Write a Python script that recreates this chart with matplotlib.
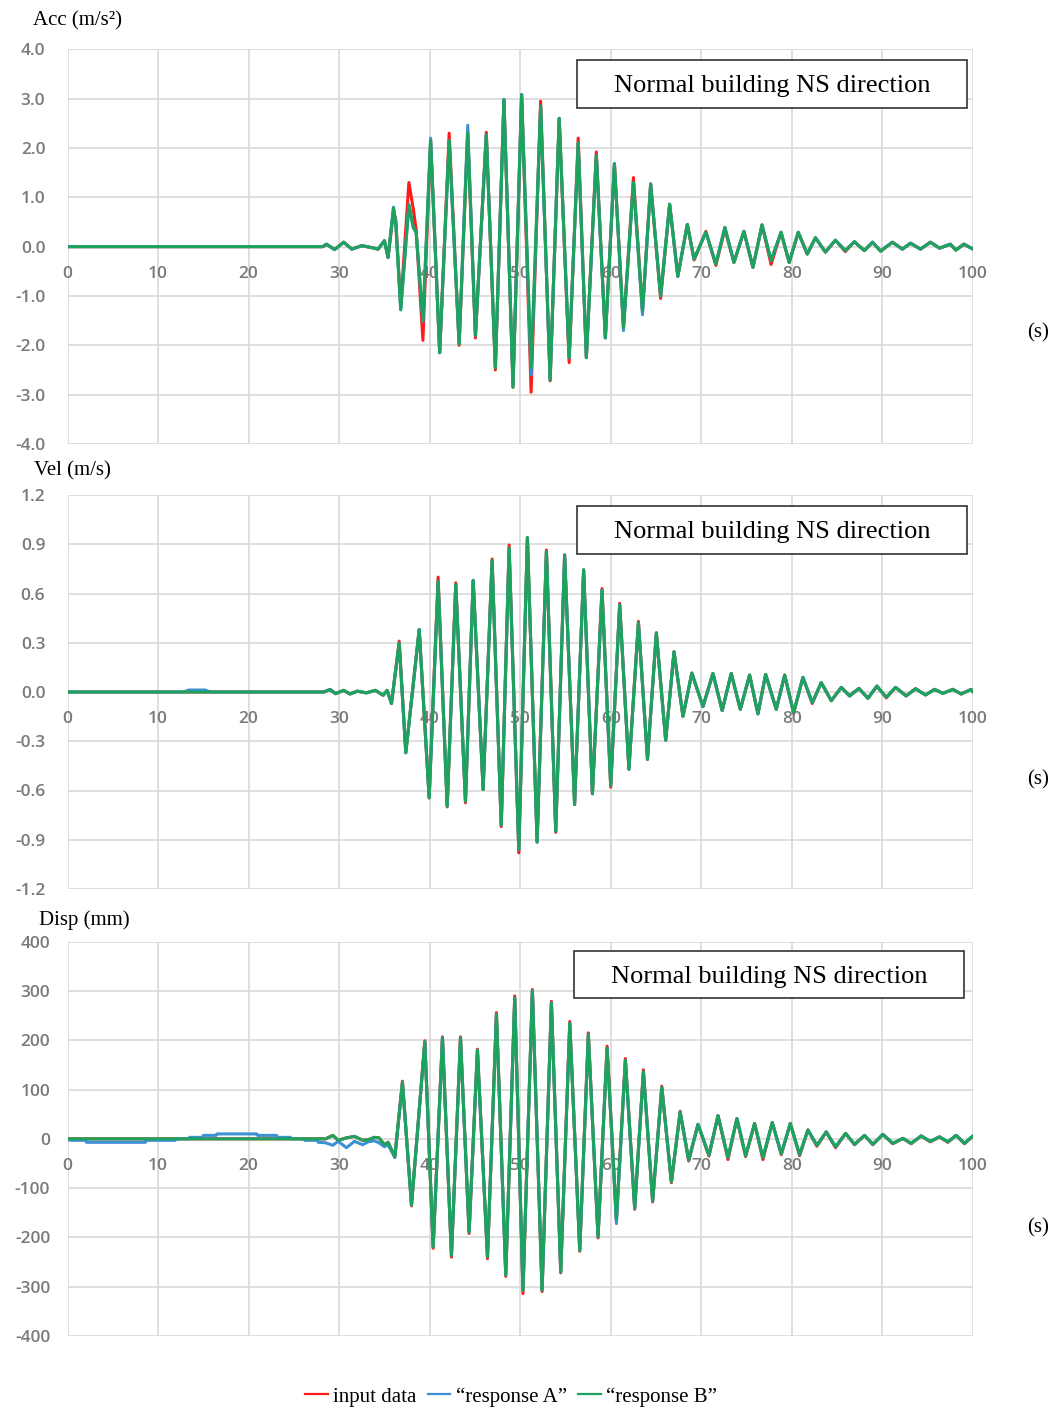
import matplotlib
matplotlib.use("Agg")
import matplotlib.pyplot as plt
from matplotlib.lines import Line2D
from matplotlib.patches import Rectangle
from matplotlib.ticker import MultipleLocator, FormatStrFormatter

plt.rcParams['font.family'] = ['Open Sans', 'DejaVu Sans']
plt.rcParams['axes.unicode_minus'] = False

# ---------------- data ----------------
series_names = ['input data', '\u201cresponse A\u201d', '\u201cresponse B\u201d']
x_ticks = [0, 10, 20, 30, 40, 50, 60, 70, 80, 90, 100]

# Acceleration (m/s^2)
t_acc = [0.0, 28.2, 28.6, 29.5, 30.5, 31.4, 32.5, 33.6, 34.3, 35.0,
         35.4, 36.0, 36.25, 36.8, 37.7, 38.2, 38.5, 39.25, 40.1, 41.1,
         42.15, 43.25, 44.2, 45.05, 46.25, 47.25, 48.2, 49.2, 50.15, 51.2,
         52.25, 53.3, 54.3, 55.4, 56.4, 57.3, 58.4, 59.4, 60.4, 61.4,
         62.5, 63.5, 64.4, 65.5, 66.5, 67.4, 68.45, 69.2, 70.5,
         71.6, 72.6, 73.6, 74.7, 75.7, 76.7, 77.7, 78.8, 79.7, 80.7,
         81.7, 82.6, 83.7, 84.8, 85.9, 86.9, 88.0, 88.9, 89.8, 91.1,
         92.2, 93.1, 94.2, 95.3, 96.3, 97.5, 98.1, 99.0, 100.0]
acc_resp_b = [0.0, 0.0, 0.05, -0.06, 0.09, -0.05, 0.02, -0.02, -0.05, 0.12,
              -0.22, 0.78, 0.48, -1.28, 0.85, 0.38, 0.30, -1.50, 2.15, -2.15,
              2.15, -1.97, 2.30, -1.80, 2.27, -2.45, 2.98, -2.85, 3.08, -2.45,
              2.85, -2.70, 2.60, -2.25, 2.10, -2.25, 1.85, -1.85, 1.68, -1.63,
              1.30, -1.30, 1.27, -1.00, 0.86, -0.60, 0.45, -0.25, 0.29,
              -0.35, 0.39, -0.32, 0.31, -0.42, 0.44, -0.28, 0.29, -0.32, 0.29,
              -0.15, 0.18, -0.11, 0.13, -0.08, 0.10, -0.08, 0.09, -0.09, 0.09,
              -0.05, 0.07, -0.05, 0.09, -0.03, 0.05, -0.07, 0.05, -0.05]
acc_resp_a = [0.0, 0.0, 0.05, -0.06, 0.09, -0.05, 0.02, -0.02, -0.05, 0.12,
              -0.22, 0.80, 0.48, -1.28, 0.85, 0.38, 0.30, -1.52, 2.20, -2.15,
              2.15, -1.97, 2.46, -1.80, 2.27, -2.45, 2.98, -2.80, 3.08, -2.60,
              2.85, -2.70, 2.60, -2.25, 2.10, -2.25, 1.85, -1.85, 1.68, -1.70,
              1.30, -1.38, 1.27, -1.00, 0.86, -0.60, 0.45, -0.25, 0.29,
              -0.35, 0.39, -0.32, 0.31, -0.42, 0.44, -0.28, 0.29, -0.32, 0.29,
              -0.15, 0.18, -0.11, 0.13, -0.08, 0.10, -0.08, 0.09, -0.09, 0.09,
              -0.05, 0.07, -0.05, 0.09, -0.03, 0.05, -0.07, 0.05, -0.05]
acc_input = [0.0, 0.0, 0.05, -0.06, 0.09, -0.05, 0.02, -0.02, -0.05, 0.12,
             -0.22, 0.70, 0.55, -1.20, 1.30, 0.75, 0.35, -1.90, 2.15, -2.15,
             2.30, -2.00, 2.30, -1.85, 2.32, -2.50, 2.98, -2.85, 3.08, -2.95,
             2.95, -2.72, 2.60, -2.35, 2.20, -2.25, 1.92, -1.85, 1.68, -1.63,
             1.40, -1.30, 1.27, -1.05, 0.86, -0.60, 0.45, -0.27, 0.31,
             -0.38, 0.35, -0.32, 0.31, -0.42, 0.44, -0.36, 0.29, -0.32, 0.29,
             -0.15, 0.18, -0.11, 0.13, -0.10, 0.10, -0.08, 0.09, -0.09, 0.09,
             -0.05, 0.07, -0.05, 0.09, -0.03, 0.05, -0.07, 0.05, -0.05]

# Velocity (m/s)
t_vel = [0.0, 12.8, 13.4, 15.2, 15.8, 28.3, 29.0, 29.6, 30.5, 31.2,
         32.0, 33.0, 34.0, 34.86, 35.3, 35.78, 36.63, 37.36, 38.84, 39.94,
         40.93, 41.93, 42.88, 43.95, 44.8, 45.9, 46.89, 47.9, 48.77, 49.84,
         50.79, 51.86, 52.89, 53.92, 54.9, 56.0, 57.0, 57.97, 59.03, 59.99,
         60.98, 62.0, 63.05, 64.05, 65.03, 66.06, 66.98, 67.97, 68.95, 70.18,
         71.28, 72.3, 73.3, 74.3, 75.33, 76.25, 77.1, 78.27, 79.2, 80.19,
         81.22, 82.25, 83.24, 84.35, 85.45, 86.37, 87.4, 88.4, 89.39, 90.42,
         91.45, 92.62, 93.65, 94.76, 95.75, 96.67, 97.77, 98.7, 99.8, 100.0]
vel_resp_b = [0.0, 0.0, 0.0, 0.0, 0.0, 0.0, 0.015, -0.01, 0.01, -0.012,
              0.005, -0.005, 0.01, -0.02, 0.01, -0.07, 0.298, -0.37, 0.38, -0.645,
              0.673, -0.695, 0.653, -0.665, 0.68, -0.594, 0.80, -0.81, 0.876, -0.96,
              0.94, -0.914, 0.855, -0.847, 0.835, -0.685, 0.744, -0.62, 0.62, -0.57,
              0.53, -0.47, 0.42, -0.41, 0.36, -0.294, 0.245, -0.148, 0.115, -0.089,
              0.113, -0.113, 0.113, -0.105, 0.103, -0.133, 0.107, -0.105, 0.103, -0.125,
              0.089, -0.065, 0.057, -0.053, 0.028, -0.024, 0.022, -0.038, 0.036, -0.032,
              0.028, -0.024, 0.02, -0.018, 0.016, -0.008, 0.016, -0.012, 0.016, 0.0]
vel_resp_a = [0.0, 0.0, 0.012, 0.012, 0.0, 0.0, 0.015, -0.01, 0.01, -0.012,
              0.005, -0.005, 0.01, -0.02, 0.01, -0.07, 0.298, -0.37, 0.38, -0.645,
              0.673, -0.695, 0.653, -0.665, 0.68, -0.594, 0.80, -0.81, 0.876, -0.96,
              0.94, -0.914, 0.855, -0.847, 0.835, -0.685, 0.744, -0.62, 0.62, -0.57,
              0.53, -0.47, 0.42, -0.41, 0.36, -0.294, 0.245, -0.148, 0.115, -0.089,
              0.113, -0.113, 0.113, -0.105, 0.103, -0.133, 0.107, -0.105, 0.103, -0.125,
              0.089, -0.065, 0.057, -0.053, 0.028, -0.024, 0.022, -0.038, 0.036, -0.032,
              0.028, -0.024, 0.02, -0.018, 0.016, -0.008, 0.016, -0.012, 0.016, 0.0]
vel_input = [0.0, 0.0, 0.0, 0.0, 0.0, 0.0, 0.015, -0.01, 0.01, -0.012,
             0.005, -0.005, 0.01, -0.02, 0.01, -0.07, 0.31, -0.37, 0.38, -0.645,
             0.70, -0.70, 0.665, -0.675, 0.68, -0.594, 0.81, -0.82, 0.895, -0.98,
             0.94, -0.914, 0.865, -0.855, 0.835, -0.685, 0.744, -0.62, 0.63, -0.58,
             0.54, -0.47, 0.43, -0.41, 0.36, -0.294, 0.245, -0.148, 0.115, -0.089,
             0.113, -0.113, 0.113, -0.105, 0.103, -0.133, 0.107, -0.105, 0.103, -0.13,
             0.089, -0.07, 0.057, -0.053, 0.028, -0.024, 0.022, -0.038, 0.036, -0.036,
             0.028, -0.024, 0.02, -0.018, 0.016, -0.008, 0.016, -0.012, 0.016, 0.0]

# Displacement (mm)
t_disp = [0.0, 0.5, 2.0, 2.1, 8.6, 8.7, 11.9, 12.0, 13.4, 13.5,
          14.9, 15.0, 16.4, 16.5, 20.9, 21.0, 23.1, 23.2, 24.6, 24.7,
          26.1, 26.2, 27.6, 27.7, 28.5, 29.3, 29.9, 30.8, 31.7, 32.6,
          33.2, 33.9, 34.4, 35.0, 35.4, 36.15, 36.99, 37.99, 39.46, 40.38,
          41.41, 42.4, 43.4, 44.35, 45.27, 46.38, 47.37, 48.4, 49.39, 50.3,
          51.34, 52.41, 53.44, 54.47, 55.47, 56.57, 57.52, 58.59, 59.59, 60.62,
          61.61, 62.64, 63.6, 64.62, 65.63, 66.69, 67.66, 68.6, 69.63, 70.84,
          71.84, 72.94, 73.93, 74.89, 75.88, 76.8, 77.83, 78.83, 79.82, 80.85,
          81.77, 82.76, 83.79, 84.82, 85.93, 86.92, 88.02, 88.94, 90.05, 91.15,
          92.26, 93.17, 94.28, 95.27, 96.3, 97.22, 98.14, 99.06, 100.0]
disp_resp_b = [0, 0, 0, 0, 0, 0, 0, 0, 0, 0,
               0, 0, 0, 0, 0, 0, 0, 0, 0, 0,
               0, 0, 0, 0, 0, 7, -3, 2, 5, -3,
               -2, 3, 2, -12, -7, -36, 115, -134, 197, -219,
               205, -236, 205, -189, 180, -239, 252, -276, 286, -307,
               301, -307, 276, -270, 234, -226, 211, -199, 184, -162,
               159, -141, 136, -126, 104, -87, 54, -43, 29, -33,
               47, -38, 41, -34, 31, -38, 33, -30, 31, -32,
               18, -13, 14, -16, 11, -11, 7, -11, 9, -9,
               1, -9, 6, -5, 4, -6, 7, -9, 6]
disp_resp_a = [-2, -3, -3, -7, -7, -3, -3, 0, 0, 3,
               3, 7, 7, 10, 10, 7, 7, 3, 3, 0,
               0, -3, -3, -7, -8, -13, -5, -18, -5, -12,
               -6, -4, -8, -16, -12, -38, 113, -134, 197, -219,
               205, -236, 205, -189, 180, -239, 252, -276, 286, -307,
               301, -307, 276, -270, 234, -226, 211, -199, 184, -172,
               159, -141, 136, -126, 104, -87, 54, -43, 30, -33,
               47, -38, 41, -34, 31, -38, 33, -30, 31, -32,
               18, -13, 14, -16, 11, -11, 7, -11, 9, -9,
               1, -9, 6, -5, 4, -6, 7, -9, 6]
disp_input = [0, 0, 0, 0, 0, 0, 0, 0, 0, 0,
              0, 0, 0, 0, 0, 0, 0, 0, 0, 0,
              0, 0, 0, 0, 0, 7, -3, 2, 5, -3,
              -2, 3, 2, -12, -7, -36, 117, -136, 199, -222,
              207, -240, 207, -192, 182, -243, 256, -279, 290, -314,
              303, -310, 279, -272, 238, -228, 215, -201, 188, -164,
              163, -143, 140, -128, 107, -89, 56, -45, 29, -35,
              47, -42, 41, -36, 31, -42, 33, -32, 31, -34,
              18, -15, 14, -18, 11, -12, 7, -12, 9, -10,
              1, -10, 6, -6, 4, -7, 7, -10, 6]

panels = [
    dict(t=t_acc, vals=[acc_input, acc_resp_a, acc_resp_b], ylim=(-4.0, 4.0), step=1.0,
         fmt='%.1f', label='Acc (m/s\u00b2)', top=49.3, bottom=444.0, ypad=16,
         label_xy=(33, 19), s_y=331, box=(577, 60, 967, 108)),
    dict(t=t_vel, vals=[vel_input, vel_resp_a, vel_resp_b], ylim=(-1.2, 1.2), step=0.3,
         fmt='%.1f', label='Vel (m/s)', top=495.0, bottom=889.0, ypad=16,
         label_xy=(34, 469), s_y=778, box=(577, 506, 967, 554)),
    dict(t=t_disp, vals=[disp_input, disp_resp_a, disp_resp_b], ylim=(-400, 400), step=100,
         fmt='%d', label='Disp (mm)', top=941.7, bottom=1336.0, ypad=12.5,
         label_xy=(39, 918), s_y=1226, box=(574, 951, 964, 998)),
]

colors = ['#ff1a1a', '#3d8fd6', '#1ea35f']
W, H = 1056, 1407
fig = plt.figure(figsize=(W / 100, H / 100), dpi=100)
fig.patch.set_facecolor('white')

left_px, right_px = 67.5, 973.0
grid_col = '#d9d9d9'
tick_col = '#7a7a7a'
serif = 'Liberation Serif'

for p in panels:
    ax = fig.add_axes([left_px / W, 1 - p['bottom'] / H,
                       (right_px - left_px) / W, (p['bottom'] - p['top']) / H])
    ax.set_axisbelow(True)
    for ser, col in zip(p['vals'], colors):
        ax.plot(p['t'], ser, color=col, lw=2.2, solid_joinstyle='round',
                solid_capstyle='round', zorder=2)
    ax.set_xlim(0, 100)
    ax.set_ylim(*p['ylim'])
    ax.set_xticks(x_ticks)
    ax.set_xticklabels([str(v) for v in x_ticks])
    ax.yaxis.set_major_locator(MultipleLocator(p['step']))
    ax.yaxis.set_major_formatter(FormatStrFormatter(p['fmt']))
    for s in ['top', 'right', 'left']:
        ax.spines[s].set_visible(False)
    ax.spines['bottom'].set_position(('data', 0))
    ax.spines['bottom'].set_color('none')
    ax.grid(True, color=grid_col, lw=1.2)
    ax.tick_params(axis='x', length=0, pad=14, labelsize=12.5, labelcolor=tick_col)
    ax.tick_params(axis='y', length=0, pad=p['ypad'], labelsize=12.5, labelcolor=tick_col)
    for lab in ax.get_xticklabels() + ax.get_yticklabels():
        lab.set_fontweight('semibold')
    ax.patch.set_facecolor('white')

    # axis label at upper left
    lx, ly = p['label_xy']
    fig.text(lx / W, 1 - (ly + 2) / H, p['label'], family=serif, fontsize=15,
             ha='left', va='center', color='black')
    # time unit at right
    fig.text(1038 / W, 1 - (p['s_y'] + 2) / H, '(s)', family=serif, fontsize=15,
             ha='center', va='center', color='black')
    # boxed caption
    x0, y0, x1, y1 = p['box']
    fig.patches.append(Rectangle((x0 / W, 1 - y1 / H), (x1 - x0) / W, (y1 - y0) / H,
                                 transform=fig.transFigure, facecolor='white',
                                 edgecolor='#222222', lw=1.1, zorder=5))
    fig.text((x0 + x1) / 2 / W, 1 - ((y0 + y1) / 2 + 2) / H, 'Normal building NS direction',
             family=serif, fontsize=19, ha='center', va='center', color='black', zorder=6)

handles = [Line2D([0], [0], color=c, lw=1.6) for c in colors]
leg = fig.legend(handles, series_names, loc='center', bbox_to_anchor=(511 / W, 1 - 1397 / H),
                 ncol=3, frameon=False, handlelength=1.1, handletextpad=0.25,
                 columnspacing=0.55, prop={'family': serif, 'size': 15})

fig.savefig('out.png', dpi=100, facecolor='white')
